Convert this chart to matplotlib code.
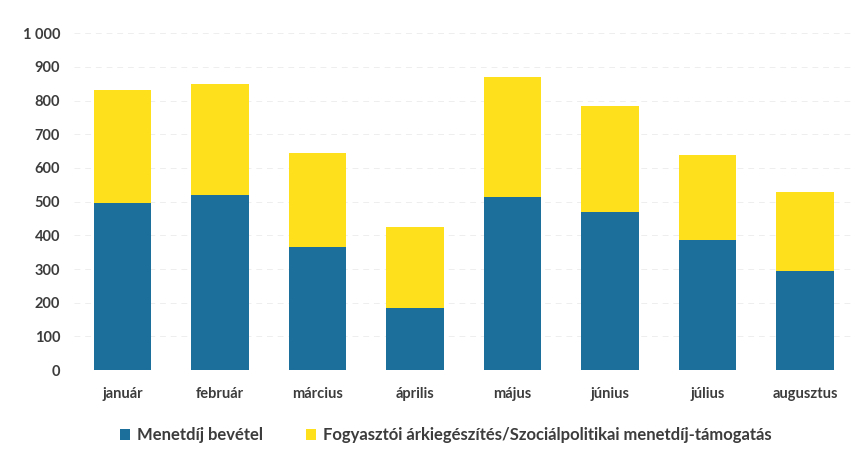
import matplotlib
matplotlib.use('Agg')
from matplotlib import pyplot
import matplotlib.ticker as ticker
import numpy

# hónapok és értékek (leolvasva)
honapok = ['január', 'február', 'március', 'április', 'május', 'június', 'július', 'augusztus']
menetdij = [495, 520, 365, 185, 515, 470, 385, 295]
tamogatas = [335, 330, 280, 240, 355, 315, 255, 235]

nev_kek = 'Menetdíj bevétel'
nev_sarga = 'Fogyasztói árkiegészítés/Szociálpolitikai menetdíj-támogatás'

kek = '#1c6f9b'
sarga = '#ffe01c'
szurke = '#3c3c3c'

pyplot.rcParams['font.family'] = ['Lato', 'DejaVu Sans']

fig = pyplot.figure(figsize=(8.65, 4.61), dpi=100)
ax = fig.add_axes([0.0855, 0.197, 0.9015, 0.731])

x = numpy.arange(len(honapok))
ax.bar(x, menetdij, width=0.59, color=kek, label=nev_kek, zorder=3)
ax.bar(x, tamogatas, width=0.59, bottom=menetdij, color=sarga, label=nev_sarga, zorder=3)

ax.set_xlim(-0.5, len(honapok) - 0.5)
ax.set_ylim(0, 1000)
ax.yaxis.set_major_locator(ticker.MultipleLocator(100))
ax.yaxis.set_major_formatter(ticker.FuncFormatter(lambda v, p: '{:,.0f}'.format(v).replace(',', ' ')))

# halvány rácsvonalak (a szkennelt képen alig látszanak)
ax.grid(axis='y', color='#eeeeee', linestyle=(0, (6, 5)), linewidth=0.7, zorder=0)

for s in ax.spines.values():
    s.set_visible(False)
ax.tick_params(axis='both', length=0, colors=szurke, labelsize=10.5)
ax.tick_params(axis='y', pad=10)
ax.tick_params(axis='x', pad=12)
ax.set_xticks(x)
ax.set_xticklabels(honapok)
for t in ax.get_xticklabels() + ax.get_yticklabels():
    t.set_fontweight('bold')

leg = ax.legend(loc='upper left', bbox_to_anchor=(0.04, -0.125), ncol=2, frameon=False,
                fontsize=12, handlelength=0.6, handleheight=0.6, handletextpad=0.4,
                columnspacing=2.6)
for t in leg.get_texts():
    t.set_color(szurke)
    t.set_fontweight('bold')

fig.savefig('out.png')
